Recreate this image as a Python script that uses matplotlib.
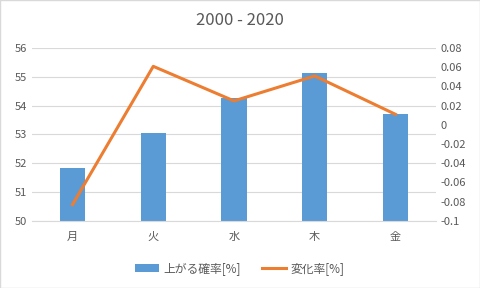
import numpy as np
import matplotlib.pyplot as plt

plt.rcParams['font.family'] = ['Noto Sans CJK JP', 'DejaVu Sans']

days = ['月', '火', '水', '木', '金']
up_prob = [51.85, 53.05, 54.25, 55.15, 53.7]
change = [-0.083, 0.061, 0.025, 0.051, 0.011]
left_ticks = [50, 51, 52, 53, 54, 55, 56]
right_ticks = [-0.1, -0.08, -0.06, -0.04, -0.02, 0, 0.02, 0.04, 0.06, 0.08]
right_labels = ['-0.1', '-0.08', '-0.06', '-0.04', '-0.02', '0',
                '0.02', '0.04', '0.06', '0.08']

blue = '#5B9BD5'
orange = '#ED7D31'
gray = '#595959'

fig = plt.figure(figsize=(4.8, 2.88), dpi=100)
fig.patches.append(plt.Rectangle((0, 0), 1, 1, transform=fig.transFigure,
                                 fill=False, edgecolor='#D9D9D9', lw=1))
ax = fig.add_axes([0.067, 0.233, 0.841, 0.6])
x = np.arange(len(days))

bars = ax.bar(x, up_prob, width=0.31, color=blue, zorder=2, label='上がる確率[%]')
ax.set_ylim(50, 56)
ax.set_yticks(left_ticks)
ax.set_xlim(-0.5, len(days) - 0.5)
ax.set_xticks(x)
ax.set_xticklabels(days)
ax.grid(axis='y', color='#D9D9D9', lw=0.8, zorder=0)
for s in ax.spines.values():
    s.set_visible(False)
ax.spines['bottom'].set_visible(True)
ax.spines['bottom'].set_color('#D9D9D9')
ax.tick_params(length=0, colors=gray, labelsize=8)
ax.tick_params(axis='x', pad=8)

ax2 = ax.twinx()
line, = ax2.plot(x, change, color=orange, lw=2.2, zorder=3, label='変化率[%]')
ax2.set_ylim(-0.1, 0.08)
ax2.set_yticks(right_ticks)
ax2.set_yticklabels(right_labels)
for s in ax2.spines.values():
    s.set_visible(False)
ax2.tick_params(length=0, colors=gray, labelsize=8)

fig.suptitle('2000 - 2020', y=0.96, fontsize=12, color=gray)
fig.legend([bars, line], ['上がる確率[%]', '変化率[%]'], loc='center',
           bbox_to_anchor=(0.5, 0.068), ncol=2, frameon=False, fontsize=8.5,
           labelcolor=gray, handlelength=2.0, handletextpad=0.4,
           columnspacing=1.8)

fig.savefig('out.png', dpi=100)
